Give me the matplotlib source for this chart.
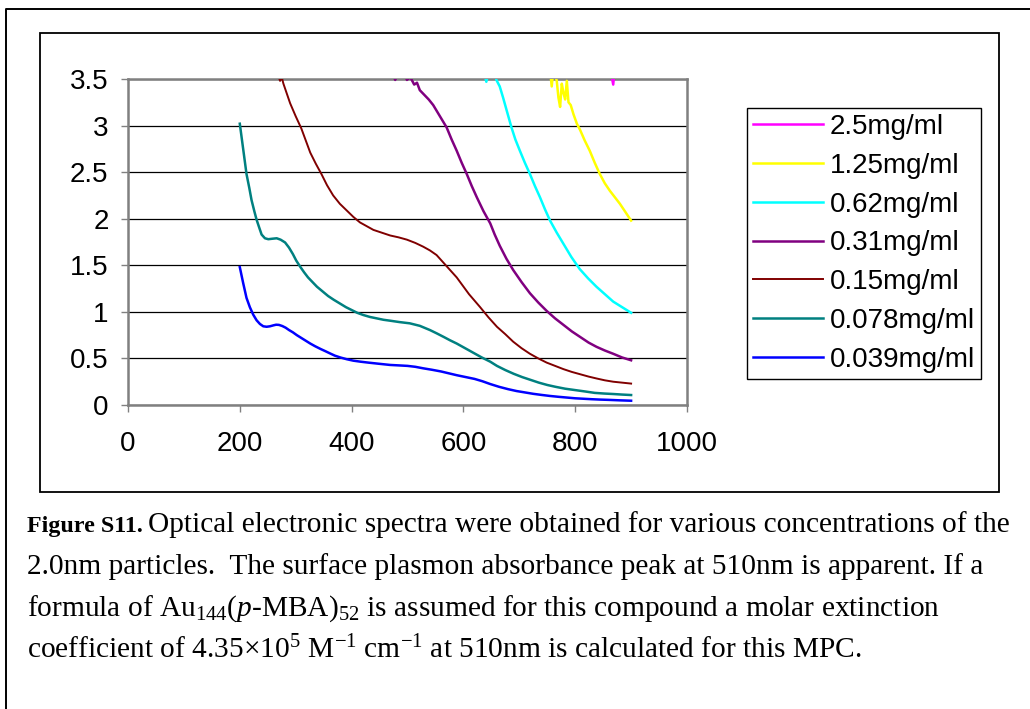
import matplotlib
matplotlib.use("Agg")
import matplotlib.pyplot as plt
from matplotlib.lines import Line2D
from matplotlib.patches import Rectangle

plt.rcParams['font.family'] = ['Liberation Sans', 'DejaVu Sans']
plt.rcParams['mathtext.fontset'] = 'custom'
plt.rcParams['mathtext.rm'] = 'Liberation Serif'
plt.rcParams['mathtext.it'] = 'Liberation Serif:italic'
plt.rcParams['mathtext.bf'] = 'Liberation Serif:bold'

# wavelength (nm) / absorbance
x_250 = [860, 868, 872, 900]
y_250 = [3.70, 3.44, 3.70, 3.90]

x_125 = [755, 758, 761, 764, 767, 770, 773, 776, 779, 782, 785, 788, 792, 797,
         803, 809, 817, 826, 835, 844, 853, 862, 871, 880, 890, 900]
y_125 = [3.60, 3.42, 3.60, 3.55, 3.48, 3.30, 3.20, 3.45, 3.35, 3.28, 3.48, 3.25,
         3.22, 3.12, 3.02, 2.95, 2.84, 2.73, 2.60, 2.48, 2.38, 2.30, 2.23, 2.16,
         2.07, 1.98]

x_062 = [636, 641, 646, 655, 659, 665, 671, 678, 686, 693, 701, 710, 719, 728,
         737, 746, 755, 767, 779, 793, 808, 823, 838, 853, 868, 884, 900]
y_062 = [3.60, 3.47, 3.60, 3.60, 3.49, 3.42, 3.30, 3.15, 2.98, 2.85, 2.73, 2.60,
         2.48, 2.35, 2.23, 2.10, 1.98, 1.85, 1.73, 1.59, 1.46, 1.36, 1.27, 1.19,
         1.11, 1.05, 0.99]

x_031 = [470, 478, 486, 495, 499, 505, 512, 517, 522, 530, 538, 546, 558, 570,
         579, 588, 597, 606, 615, 624, 636, 648, 656, 665, 677, 689, 704, 719,
         734, 749, 764, 779, 794, 809, 824, 838, 853, 868, 884, 900]
y_031 = [3.60, 3.49, 3.60, 3.55, 3.49, 3.52, 3.44, 3.46, 3.38, 3.33, 3.28, 3.22,
         3.10, 2.98, 2.85, 2.73, 2.60, 2.48, 2.35, 2.23, 2.08, 1.95, 1.83, 1.71,
         1.57, 1.45, 1.32, 1.20, 1.10, 1.01, 0.93, 0.86, 0.79, 0.73, 0.67, 0.625,
         0.585, 0.55, 0.51, 0.48]

x_015 = [268, 272, 275, 278, 290, 300, 310, 318, 326, 336, 346, 356, 367, 379,
         391, 403, 415, 427, 439, 454, 469, 484, 499, 514, 528, 540, 552, 561,
         570, 579, 588, 599, 610, 620, 630, 645, 660, 675, 689, 704, 719, 734,
         749, 764, 779, 794, 809, 824, 838, 853, 868, 884, 900]
y_015 = [3.55, 3.48, 3.52, 3.45, 3.24, 3.10, 2.97, 2.84, 2.71, 2.59, 2.48, 2.36,
         2.25, 2.16, 2.09, 2.02, 1.96, 1.92, 1.88, 1.85, 1.82, 1.80, 1.775, 1.74,
         1.70, 1.66, 1.61, 1.55, 1.49, 1.43, 1.37, 1.28, 1.19, 1.12, 1.05, 0.94,
         0.84, 0.76, 0.68, 0.61, 0.55, 0.50, 0.455, 0.42, 0.385, 0.355, 0.33,
         0.305, 0.285, 0.265, 0.25, 0.24, 0.23]

x_0078 = [200, 206, 212, 217, 221, 226, 230, 235, 239, 245, 251, 258, 266, 273,
          281, 288, 295, 301, 308, 315, 322, 330, 338, 348, 358, 368, 379, 390,
          400, 410, 421, 433, 445, 457, 469, 486, 504, 522, 540, 552, 565, 576,
          588, 603, 618, 633, 648, 660, 675, 690, 705, 720, 735, 750, 765, 782,
          800, 818, 835, 852, 868, 884, 900]
y_0078 = [3.02, 2.75, 2.48, 2.33, 2.20, 2.08, 1.99, 1.90, 1.83, 1.79, 1.78,
          1.785, 1.79, 1.775, 1.745, 1.69, 1.62, 1.55, 1.485, 1.425, 1.37, 1.32,
          1.27, 1.22, 1.17, 1.13, 1.09, 1.05, 1.02, 0.99, 0.966, 0.945, 0.93,
          0.915, 0.905, 0.89, 0.877, 0.85, 0.805, 0.77, 0.73, 0.695, 0.66, 0.61,
          0.56, 0.51, 0.465, 0.42, 0.375, 0.335, 0.30, 0.27, 0.24, 0.215, 0.195,
          0.175, 0.16, 0.145, 0.13, 0.123, 0.118, 0.112, 0.107]

x_0039 = [200, 206, 212, 218, 224, 230, 236, 242, 248, 254, 260, 265, 270, 276,
          282, 288, 295, 302, 310, 318, 326, 335, 345, 353, 361, 370, 380, 391,
          403, 416, 430, 450, 469, 485, 500, 514, 528, 544, 560, 574, 588, 604,
          620, 634, 648, 664, 680, 695, 710, 725, 740, 755, 770, 785, 800, 815,
          830, 845, 860, 880, 900]
y_0039 = [1.48, 1.31, 1.15, 1.05, 0.97, 0.91, 0.87, 0.845, 0.84, 0.845, 0.855,
          0.862, 0.86, 0.848, 0.83, 0.805, 0.78, 0.75, 0.72, 0.69, 0.66, 0.63,
          0.60, 0.578, 0.555, 0.53, 0.51, 0.492, 0.476, 0.465, 0.455, 0.442, 0.43,
          0.425, 0.42, 0.41, 0.394, 0.378, 0.36, 0.34, 0.32, 0.30, 0.28, 0.255,
          0.225, 0.195, 0.17, 0.15, 0.135, 0.12, 0.108, 0.097, 0.088, 0.08, 0.072,
          0.067, 0.062, 0.058, 0.055, 0.05, 0.046]

labels = ["2.5mg/ml", "1.25mg/ml", "0.62mg/ml", "0.31mg/ml", "0.15mg/ml",
          "0.078mg/ml", "0.039mg/ml"]
colors = ["#FF00FF", "#FFFF00", "#00FFFF", "#800080", "#800000", "#008080",
          "#0000FF"]
xs = [x_250, x_125, x_062, x_031, x_015, x_0078, x_0039]
ys = [y_250, y_125, y_062, y_031, y_015, y_0078, y_0039]
widths = [1.8, 1.8, 1.8, 1.8, 1.4, 1.8, 1.8]

fig = plt.figure(figsize=(10.30, 7.09), dpi=100)
W, H = 1030, 709

# outer frame (left + top only) and chart area box
fig.add_artist(Line2D([6 / W, 6 / W, 1], [0, 1 - 9 / H, 1 - 9 / H],
                      color="black", lw=1.4, transform=fig.transFigure))
fig.add_artist(Rectangle((40 / W, 1 - 492 / H), 959 / W, 459 / H, fill=False,
                         edgecolor="black", lw=1.3, transform=fig.transFigure))

ax = fig.add_axes([128 / W, 1 - 405 / H, 559 / W, 326 / H])

lines = []
for xx, yy, c, lab, lw in zip(xs, ys, colors, labels, widths):
    ln, = ax.plot(xx, yy, color=c, lw=lw, label=lab, zorder=3)
    lines.append(ln)

ax.set_xlim(0, 1000)
ax.set_ylim(0, 3.5)
ax.set_xticks([0, 200, 400, 600, 800, 1000])
ax.set_yticks([0, 0.5, 1, 1.5, 2, 2.5, 3, 3.5])
ax.set_yticklabels(["0", "0.5", "1", "1.5", "2", "2.5", "3", "3.5"])
ax.yaxis.grid(True, color="black", lw=0.9)
ax.set_axisbelow(True)
for s in ax.spines.values():
    s.set_color("#808080")
    s.set_linewidth(1.8)
ax.tick_params(axis="both", labelsize=20, direction="out", length=5,
               width=1, color="#808080")
ax.tick_params(axis="x", pad=14)
ax.tick_params(axis="y", pad=9)

ax.legend(handles=lines, loc="upper left",
          bbox_to_anchor=(747 / W, 1 - 108 / H),
          bbox_transform=fig.transFigure, borderaxespad=0, fontsize=20,
          frameon=True, fancybox=False, edgecolor="black", framealpha=1,
          handlelength=2.5, handletextpad=0.25, labelspacing=0.46,
          borderpad=0.22)
ax.get_legend().get_frame().set_linewidth(1.0)

# caption
serif = "Liberation Serif"
cap_size = 21.2
x0 = 27 / W
bold = fig.text(x0, 1 - 532 / H, "Figure S11.", fontsize=cap_size - 3.9,
                fontweight="bold", family=serif, va="baseline")
fig.canvas.draw()
bb = bold.get_window_extent()
fig.text((bb.x1 + 5) / W, 1 - 532 / H,
         "Optical electronic spectra were obtained for various concentrations of the",
         fontsize=cap_size, family=serif, va="baseline")
fig.text(x0, 1 - 574 / H,
         "2.0nm particles.  The surface plasmon absorbance peak at 510nm is apparent. If a",
         fontsize=cap_size, family=serif, va="baseline")
fig.text(x0, 1 - 616 / H,
         r"formula of Au$_{144}$($\mathit{p}$-MBA)$_{52}$ is assumed for this compound a molar extinction",
         fontsize=cap_size, family=serif, va="baseline")
fig.text(x0, 1 - 658 / H,
         r"coefficient of 4.35×10$^{5}$ M$^{-1}$ cm$^{-1}$ at 510nm is calculated for this MPC.",
         fontsize=cap_size, family=serif, va="baseline")

fig.savefig("out.png", dpi=100)
